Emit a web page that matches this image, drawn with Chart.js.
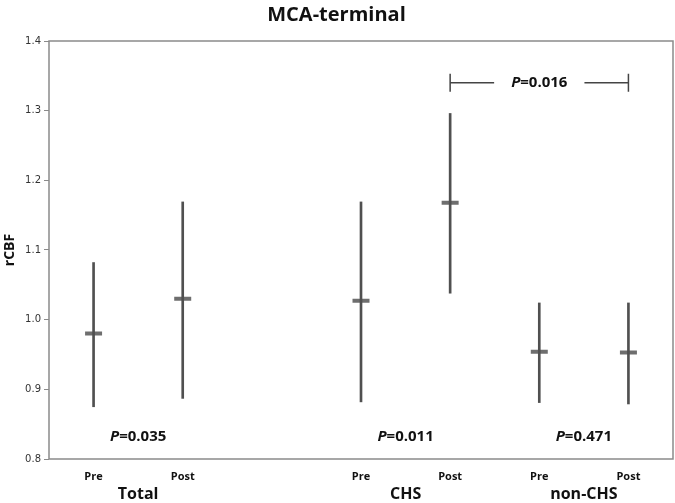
<!DOCTYPE html>
<html>
<head>
<meta charset="utf-8">
<script src="https://cdn.jsdelivr.net/npm/chart.js@4/dist/chart.umd.min.js"></script>
<style>
  html, body { margin: 0; padding: 0; overflow: hidden; background: #fff; }
  canvas { display: block; }
</style>
</head>
<body>
<canvas id="chart" width="675" height="503"></canvas>
<script>
var categories = ['Pre', 'Post', '', 'Pre', 'Post', 'Pre', 'Post'];
var means = [0.980, 1.030, null, 1.027, 1.168, 0.954, 0.953];
var lows = [0.875, 0.887, null, 0.882, 1.038, 0.881, 0.879];
var highs = [1.082, 1.169, null, 1.169, 1.296, 1.024, 1.024];
var yTicks = [0.8, 0.9, 1.0, 1.1, 1.2, 1.3, 1.4];

var groups = ['Total', 'CHS', 'non-CHS'];
var groupStart = [0, 3, 5];
var groupEnd = [1, 4, 6];
var groupP = ['0.035', '0.011', '0.471'];
var pY = 0.832;

var bracketFrom = 4;
var bracketTo = 6;
var bracketP = '0.016';
var bracketY = 1.34;

var ranges = lows.map(function (lo, i) {
  return lo === null ? null : [lo, highs[i]];
});

var boldFont = '"Open Sans", "Liberation Sans", sans-serif';

function drawP(ctx, value, x, y) {
  ctx.font = 'italic bold 15px ' + boldFont;
  var w1 = ctx.measureText('P').width;
  ctx.font = 'bold 15px ' + boldFont;
  var rest = '=' + value;
  var w2 = ctx.measureText(rest).width;
  var start = x - (w1 + w2) / 2;
  ctx.textAlign = 'left';
  ctx.textBaseline = 'middle';
  ctx.font = 'italic bold 15px ' + boldFont;
  ctx.fillText('P', start, y);
  ctx.font = 'bold 15px ' + boldFont;
  ctx.fillText(rest, start + w1, y);
  return w1 + w2;
}

var annotations = {
  id: 'annotations',
  afterDraw: function (chart) {
    var ctx = chart.ctx;
    var xs = chart.scales.x;
    var ys = chart.scales.y;
    var area = chart.chartArea;
    ctx.save();

    // frame
    ctx.strokeStyle = '#8a8a8a';
    ctx.lineWidth = 1.5;
    ctx.strokeRect(area.left, area.top, area.right - area.left, area.bottom - area.top);

    ctx.fillStyle = '#111';
    for (var i = 0; i < groups.length; i++) {
      var cx = (xs.getPixelForValue(groupStart[i]) + xs.getPixelForValue(groupEnd[i])) / 2;
      drawP(ctx, groupP[i], cx, ys.getPixelForValue(pY));
      ctx.font = 'bold 16px ' + boldFont;
      ctx.textAlign = 'center';
      ctx.textBaseline = 'middle';
      ctx.fillText(groups[i], cx, 494);
    }

    // bracket between CHS post and non-CHS post
    var x1 = xs.getPixelForValue(bracketFrom);
    var x2 = xs.getPixelForValue(bracketTo);
    var by = ys.getPixelForValue(bracketY);
    var mid = (x1 + x2) / 2;
    var tw = drawP(ctx, bracketP, mid, by);
    ctx.strokeStyle = '#444';
    ctx.lineWidth = 1.5;
    ctx.beginPath();
    ctx.moveTo(x1, by - 9); ctx.lineTo(x1, by + 9);
    ctx.moveTo(x2, by - 9); ctx.lineTo(x2, by + 9);
    ctx.moveTo(x1, by); ctx.lineTo(mid - tw / 2 - 17, by);
    ctx.moveTo(mid + tw / 2 + 17, by); ctx.lineTo(x2, by);
    ctx.stroke();
    ctx.restore();
  }
};

new Chart(document.getElementById('chart'), {
  type: 'bar',
  data: {
    labels: categories,
    datasets: [
      {
        label: 'range',
        data: ranges,
        backgroundColor: '#505050',
        barThickness: 2,
        borderSkipped: false
      },
      {
        type: 'line',
        label: 'mean',
        data: means,
        showLine: false,
        pointStyle: 'line',
        pointRadius: 8.5,
        pointHoverRadius: 8.5,
        pointBorderWidth: 4,
        pointBorderColor: '#6e6e6e',
        pointBackgroundColor: '#6e6e6e'
      }
    ]
  },
  options: {
    responsive: false,
    animation: false,
    layout: { autoPadding: false, padding: { left: 0, right: 2, top: 0, bottom: 0 } },
    plugins: {
      legend: { display: false },
      tooltip: { enabled: false },
      title: {
        display: true,
        text: 'MCA-terminal',
        color: '#111',
        font: { family: boldFont, size: 20, weight: 'bold' },
        padding: { top: 3, bottom: 14 }
      }
    },
    scales: {
      x: {
        offset: true,
        grid: { display: false },
        border: { display: false },
        ticks: {
          color: '#111',
          padding: 3,
          font: { family: boldFont, size: 11, weight: 'bold' },
          maxRotation: 0,
          autoSkip: false
        },
        afterFit: function (s) { s.height = 44; }
      },
      y: {
        min: 0.8,
        max: 1.4,
        afterBuildTicks: function (s) {
          s.ticks = yTicks.map(function (v) { return { value: v }; });
        },
        grid: { drawOnChartArea: false, tickLength: 5, color: '#8a8a8a' },
        border: { display: false },
        ticks: {
          color: '#333',
          padding: 3,
          font: { family: '"DejaVu Sans", sans-serif', size: 10 },
          callback: function (v) { return Number(v).toFixed(1); }
        },
        title: {
          display: true,
          text: 'rCBF',
          color: '#111',
          font: { family: boldFont, size: 14, weight: 'bold' },
          padding: { top: 2, bottom: 2 }
        },
        afterFit: function (s) { s.width = 49; }
      }
    }
  },
  plugins: [annotations]
});
</script>
</body>
</html>
